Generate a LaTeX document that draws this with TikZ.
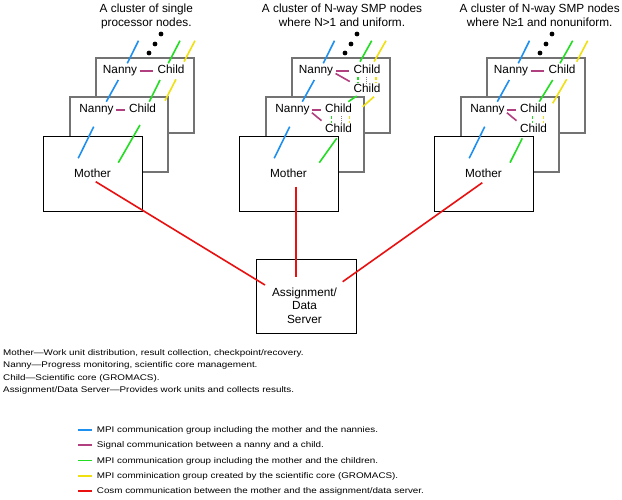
\documentclass[tikz,border=0pt]{standalone}
\usepackage{fontspec}
\setmainfont{Liberation Sans}
\newfontfamily\notefont[FakeStretch=1.2]{Liberation Sans}
\usepackage{tikz}
\usepackage{xcolor}

\definecolor{mpiblue}{RGB}{30,144,240}
\definecolor{signalpurple}{RGB}{176,64,127}
\definecolor{mpigreen}{RGB}{34,221,34}
\definecolor{coreyellow}{RGB}{240,224,16}
\definecolor{cosmred}{RGB}{232,16,16}

\begin{document}
\begin{tikzpicture}[x=1pt,y=-1pt,
  lbl/.style={font=\fontsize{11.8}{14}\selectfont, inner sep=1pt, text height=8.5pt, text depth=2pt, anchor=base},
  titletext/.style={font=\fontsize{11.8}{14.4}\selectfont, align=center, inner sep=0pt},
  tier/.style={draw=black!55, line width=1.4pt, fill=white},
  frontbox/.style={draw=black, line width=0.8pt, fill=white, minimum width=99pt, minimum height=75pt, inner sep=0pt, font=\fontsize{11.8}{14}\selectfont},
  note/.style={font=\notefont\fontsize{8.2}{10}\selectfont, anchor=base west, inner sep=0pt},
  link/.style={line width=1.6pt},
  nannyline/.style={link, mpiblue},
  signal/.style={link, signalpurple, shorten <=1.5pt, shorten >=3pt},
  childline/.style={link, mpigreen},
  coreline/.style={link, coreyellow},
  multi/.style={dash pattern=on 3pt off 1.5pt},
  cosm/.style={link, cosmred}]

\useasboundingbox (0,0) rectangle (622,500);

% three clusters: back node, middle node, mother in front
\foreach \dx/\i in {0/1,196/2,391/3}{
  \begin{scope}[xshift=\dx]
    \draw[tier] (96,58) rectangle (194,133);
    \draw[tier] (70,97) rectangle (168,172);
    \node[frontbox] (mother\i) at (92.5,173.5) {Mother};
    \foreach \p in {(161,34),(155,44),(149,53)} \fill \p circle (2.4);
    \node[lbl] (nB\i) at (120,74) {Nanny};
    \node[lbl] (cB\i) at (171,74) {Child};
    \node[lbl] (nM\i) at (96.5,113) {Nanny};
    \node[lbl] (cM\i) at (142.5,113) {Child};
    \draw[nannyline] (138.5,40.7) -- (127.3,63.3) (118.3,80) -- (106.3,101.7) (93.7,126.7) -- (78.2,158.3);
  \end{scope}
}

% single processor nodes
\node[titletext] (title1) at (146.3,16.4) {A cluster of single\\processor nodes.};
\draw[childline] (180,40.7) -- (168.3,63.3) (160,80) -- (149.3,101.7) (140,125) -- (118.3,162.7);
\draw[coreline] (195,40.7) -- (184,61.7) (176,79.3) -- (165,100.7);
\draw[signal] (nB1) -- (cB1);
\draw[signal] (nM1) -- (cM1);

% uniform SMP nodes
\node[titletext] (title2) at (342,15.2) {A cluster of N-way SMP nodes\\where N>1 and uniform.};
\node[lbl] (cB2b) at (367,92.7) {Child};
\node[lbl] (cM2b) at (338.5,132.3) {Child};
\draw[childline] (371.7,40.7) -- (360,61.7) (356.7,96) -- (348.3,101.7) (336.7,138.3) -- (319.3,162.7);
\draw[coreline] (386,40.7) -- (374,61.7) (374,96.7) -- (362.7,106.7);
\draw[childline, multi] ([xshift=-9pt]cB2.south) -- ([xshift=-9pt]cB2b.north);
\draw[childline, multi] ([xshift=-7pt]cM2.south) -- ([xshift=-7pt]cM2b.north);
\draw[coreline, multi] ([xshift=9pt]cB2.south) -- ([xshift=9pt]cB2b.north);
\draw[coreline, multi] ([xshift=11pt]cM2.south) -- ([xshift=11pt]cM2b.north);
\draw[gray, densely dotted, line width=0.8pt] ([xshift=-1pt]cB2.south) -- ([xshift=-1pt]cB2b.north);
\draw[gray, densely dotted, line width=0.8pt] ([xshift=2.5pt]cM2.south) -- ([xshift=2.5pt]cM2b.north);
\draw[signal] (nB2) -- (cB2);
\draw[signal] ([yshift=-2pt]nB2.east) -- (cB2b.north west);
\draw[signal] (nM2) -- (cM2);
\draw[signal] ([yshift=-2pt]nM2.east) -- (cM2b.north west);

% nonuniform SMP nodes
\node[titletext] (title3) at (539.7,15.2) {A cluster of N-way SMP nodes\\where N≥1 and nonuniform.};
\node[lbl] (cM3b) at (533.5,132.3) {Child};
\draw[childline] (572.7,40.7) -- (560,63.3) (552.7,80) -- (539.3,101.7) (522.3,138.3) -- (510,162.7);
\draw[coreline] (587.7,40.7) -- (576.7,61.7) (566.7,79.3) -- (552.7,103.3);
\draw[childline, multi] ([xshift=-1pt]cM3.south) -- ([xshift=-1pt]cM3b.north);
\draw[coreline, multi] ([xshift=10pt]cM3.south) -- ([xshift=10pt]cM3b.north);
\draw[signal] (nB3) -- (cB3);
\draw[signal] (nM3) -- (cM3);
\draw[signal] ([yshift=-2pt]nM3.east) -- (cM3b.north west);

% assignment/data server
\draw[draw=black, line width=0.8pt, fill=white] (256.7,259.3) rectangle (356,333.3);
\node[titletext, font=\fontsize{11.8}{13.5}\selectfont] (server) at (304.5,305.3) {Assignment/\\Data\\Server};
\draw[cosm] ([shift={(3.2,8.2)}]mother1.center) -- ([shift={(-39.5,-20.3)}]server.center);
\draw[cosm] ([shift={(7.2,13.2)}]mother2.center) -- ([shift={(-8.8,-28.6)}]server.center);
\draw[cosm] ([shift={(-1.2,9.2)}]mother3.center) -- ([shift={(38.2,-23.6)}]server.center);

% roles
\node[note] (roleMother) at (3,355.6) {Mother—Work unit distribution, result collection, checkpoint/recovery.};
\node[note] (roleNanny) at (3,367.9) {Nanny—Progress monitoring, scientific core management.};
\node[note] (roleChild) at (3,380.2) {Child—Scientific core (GROMACS).};
\node[note] (roleServer) at (3,392.2) {Assignment/Data Server—Provides work units and collects results.};

% legend
\node[note] (keyNanny) at (96.7,432.6) {MPI communication group including the mother and the nannies.};
\node[note] (keySignal) at (96.7,447.6) {Signal communication between a nanny and a child.};
\node[note] (keyChild) at (96.7,463.2) {MPI communication group including the mother and the children.};
\node[note] (keyCore) at (96.7,478.6) {MPI comminication group created by the scientific core (GROMACS).};
\node[note] (keyCosm) at (96.7,493.6) {Cosm communication between the mother and the assignment/data server.};
\draw[nannyline] ([shift={(-18.4,-2.9)}]keyNanny.base west) -- ++(13.4,0);
\draw[signalpurple, link] ([shift={(-18.4,-2.9)}]keySignal.base west) -- ++(13.4,0);
\draw[childline] ([shift={(-18.4,-2.9)}]keyChild.base west) -- ++(13.4,0);
\draw[coreline] ([shift={(-18.4,-2.9)}]keyCore.base west) -- ++(13.4,0);
\draw[cosm] ([shift={(-18.4,-2.9)}]keyCosm.base west) -- ++(13.4,0);

\end{tikzpicture}
\end{document}
